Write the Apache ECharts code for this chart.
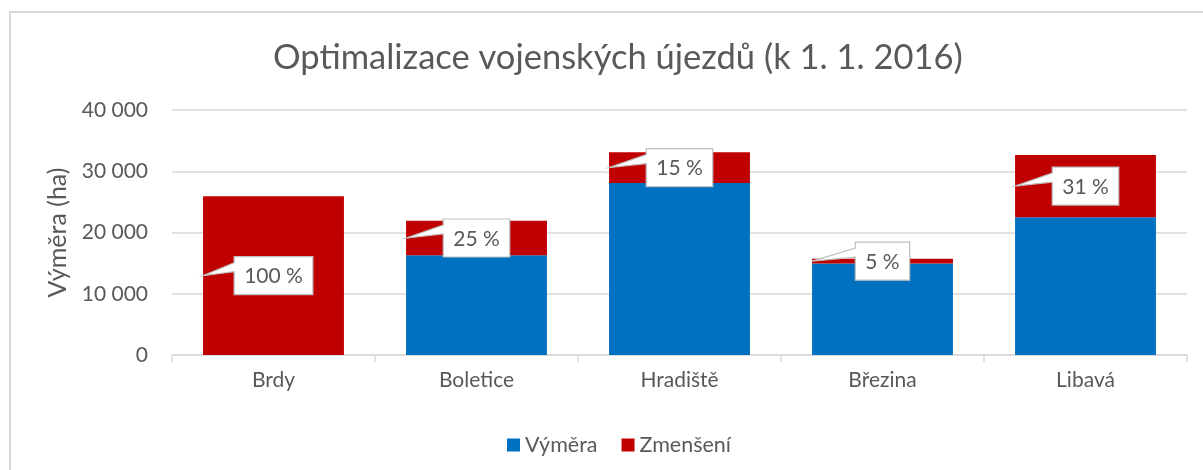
<!DOCTYPE html>
<html>
<head>
<meta charset="utf-8">
<script src="https://cdn.jsdelivr.net/npm/echarts@6/dist/echarts.min.js"></script>
<style>
  html, body { margin: 0; padding: 0; background: #fff; }
  #chart { width: 1203px; height: 470px; }
</style>
</head>
<body>
<div id="chart"></div>
<script>
// data (ha)
var categories = ['Brdy', 'Boletice', 'Hradiště', 'Březina', 'Libavá'];
var vymera = [0, 16300, 28100, 14950, 22500];      // remaining area
var zmenseni = [25900, 5600, 5000, 750, 10150];    // reduction
var calloutText = ['100 %', '25 %', '15 %', '5 %', '31 %'];
var yTicks = [0, 10000, 20000, 30000, 40000];

var FONT = 'Lato, "Noto Sans", sans-serif';
var TEXT = '#595959';
var BAR_RATIO = 0.694;
var TITLE = 'Optimalizace vojenských újezdů (k 1. 1. 2016)';

var chart = echarts.init(document.getElementById('chart'));

var ctx = document.createElement('canvas').getContext('2d');
function textW(s, size) {
  ctx.font = size + 'px ' + FONT;
  return ctx.measureText(s).width;
}

function fmt(v) {
  return String(v).replace(/\B(?=(\d{3})+(?!\d))/g, ' ');
}

// callout box with a wedge pointing at the left edge of the red part
function renderCallout(params, api) {
  var i = api.value(0);
  var base = api.value(1);
  var red = api.value(2);
  var c = api.coord([i, base + red / 2]);
  var catW = api.size([1, 0])[0];
  var tipX = c[0] - catW * BAR_RATIO / 2;
  var text = calloutText[params.dataIndex];
  var w = textW(text, 21) + 20;
  var h = 38;
  var x0 = c[0] - w / 2, y0 = c[1] - h / 2;
  return {
    type: 'group',
    children: [{
      type: 'polygon',
      shape: {
        points: [
          [x0, y0], [x0 + w, y0], [x0 + w, y0 + h], [x0, y0 + h],
          [x0, c[1] - 4], [tipX, c[1]], [x0, c[1] - 13]
        ]
      },
      style: { fill: '#fff', stroke: '#bfbfbf', lineWidth: 1.2 }
    }, {
      type: 'text',
      style: {
        text: text, x: c[0], y: c[1] + 1,
        align: 'center', verticalAlign: 'middle',
        fontSize: 21, fontFamily: FONT, fill: TEXT
      }
    }]
  };
}

var calloutData = [];
for (var i = 0; i < categories.length; i++) {
  calloutData.push([i, vymera[i], zmenseni[i]]);
}

var option = {
  animation: false,
  backgroundColor: '#fff',
  title: {
    text: TITLE,
    left: Math.round(613 - textW(TITLE, 34.5) / 2),
    top: 35,
    textStyle: { fontFamily: FONT, fontSize: 34.5, fontWeight: 'normal', color: TEXT }
  },
  legend: {
    data: ['Výměra', 'Zmenšení'],
    left: 502,
    top: 429,
    itemWidth: 13,
    itemHeight: 13,
    itemGap: 24,
    icon: 'rect',
    textStyle: { fontFamily: FONT, fontSize: 21.5, color: TEXT }
  },
  grid: { left: 172, right: 16, top: 110, bottom: 115 },
  xAxis: {
    type: 'category',
    data: categories,
    axisLine: { lineStyle: { color: '#d9d9d9', width: 1.5 } },
    axisTick: { show: true, length: 7, lineStyle: { color: '#d9d9d9', width: 1.5 } },
    axisLabel: { margin: 15, fontFamily: FONT, fontSize: 21, color: TEXT }
  },
  yAxis: {
    type: 'value',
    min: yTicks[0],
    max: yTicks[yTicks.length - 1],
    interval: yTicks[1] - yTicks[0],
    name: 'Výměra (ha)',
    nameLocation: 'middle',
    nameRotate: 90,
    nameGap: 99,
    nameTextStyle: { fontFamily: FONT, fontSize: 25, color: TEXT },
    axisLine: { show: false },
    axisTick: { show: false },
    axisLabel: { margin: 24, fontFamily: FONT, fontSize: 21, color: TEXT, formatter: fmt },
    splitLine: { lineStyle: { color: '#d9d9d9', width: 1.5 } }
  },
  series: [
    {
      name: 'Výměra',
      type: 'bar',
      stack: 'a',
      barWidth: (BAR_RATIO * 100) + '%',
      itemStyle: { color: '#0070C0' },
      data: vymera
    },
    {
      name: 'Zmenšení',
      type: 'bar',
      stack: 'a',
      barWidth: (BAR_RATIO * 100) + '%',
      itemStyle: { color: '#C00000' },
      data: zmenseni
    },
    {
      type: 'custom',
      silent: true,
      z: 10,
      renderItem: renderCallout,
      encode: { x: 0, y: 1 },
      data: calloutData
    }
  ],
  graphic: [{
    type: 'rect',
    silent: true,
    shape: { x: 10, y: 12, width: 1210, height: 480 },
    style: { fill: 'none', stroke: '#d9d9d9', lineWidth: 2 }
  }]
};

chart.setOption(option);
</script>
</body>
</html>
